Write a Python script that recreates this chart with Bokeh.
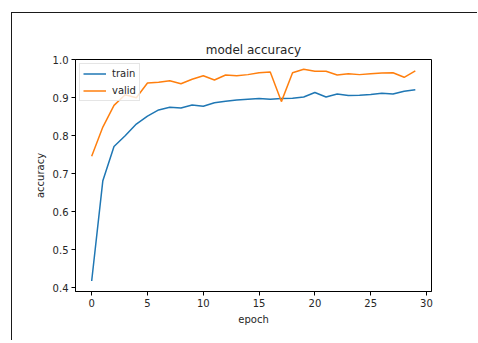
from bokeh.plotting import figure
from bokeh.models import Range1d, FixedTicker
from bokeh.embed import file_html
from bokeh.resources import INLINE

epochs = list(range(30))
train = [0.418, 0.682, 0.772, 0.800, 0.831, 0.852, 0.868, 0.875, 0.873, 0.881,
         0.878, 0.887, 0.891, 0.894, 0.896, 0.898, 0.896, 0.898, 0.899, 0.902,
         0.914, 0.902, 0.910, 0.906, 0.907, 0.909, 0.912, 0.910, 0.917, 0.921]
valid = [0.746, 0.823, 0.880, 0.908, 0.900, 0.939, 0.941, 0.945, 0.937, 0.949,
         0.958, 0.947, 0.960, 0.958, 0.961, 0.966, 0.968, 0.890, 0.966, 0.975,
         0.970, 0.970, 0.960, 0.963, 0.961, 0.963, 0.965, 0.966, 0.954, 0.971]
x_ticks = [0, 5, 10, 15, 20, 25, 30]
y_ticks = [0.4, 0.5, 0.6, 0.7, 0.8, 0.9, 1.0]

FONT = "DejaVu Sans"

p = figure(width=466, height=328, output_backend="svg", toolbar_location=None,
           x_range=Range1d(-1.45, 30.45), y_range=Range1d(0.3903, 1.0008),
           min_border_left=63, min_border_right=47, min_border_top=46,
           min_border_bottom=50, title="model accuracy")
p.styles = {"margin-left": "11px", "margin-top": "12px",
            "border-left": "1px solid #1a1a1a", "border-top": "1px solid #1a1a1a"}

p.line(epochs, train, line_color="#1f77b4", line_width=1.5, legend_label="train")
p.line(epochs, valid, line_color="#ff7f0e", line_width=1.5, legend_label="valid")

p.title.text_font = FONT
p.title.text_font_size = "12px"
p.title.text_font_style = "normal"
p.title.text_color = "#262626"
p.title.align = "center"
p.title.standoff = 5

p.xgrid.visible = False
p.ygrid.visible = False
p.outline_line_color = "black"
p.outline_line_width = 1
p.outline_line_alpha = 1

p.xaxis.ticker = FixedTicker(ticks=x_ticks)
p.yaxis.ticker = FixedTicker(ticks=y_ticks)
p.yaxis.major_label_overrides = {t: f"{t:.1f}" for t in y_ticks}
p.xaxis.axis_label = "epoch"
p.yaxis.axis_label = "accuracy"
for ax in (p.xaxis, p.yaxis):
    ax.major_tick_out = 4
    ax.major_tick_in = 0
    ax.minor_tick_out = 0
    ax.minor_tick_in = 0
    ax.axis_line_color = "black"
    ax.major_tick_line_color = "black"
    ax.major_label_text_font = FONT
    ax.major_label_text_font_size = "10px"
    ax.major_label_text_color = "#262626"
    ax.major_label_standoff = 3
    ax.axis_label_text_font = FONT
    ax.axis_label_text_font_size = "10px"
    ax.axis_label_text_font_style = "normal"
    ax.axis_label_text_color = "#262626"
    ax.axis_label_standoff = 4

lg = p.legend[0]
lg.location = "top_left"
lg.margin = 4
lg.padding = 3
lg.spacing = 4
lg.glyph_width = 23
lg.glyph_height = 13
lg.label_height = 13
lg.label_standoff = 6
lg.label_text_font = FONT
lg.label_text_font_size = "10px"
lg.label_text_color = "#262626"
lg.border_line_color = "#cccccc"
lg.background_fill_alpha = 0.8

open("out.html", "w").write(file_html(p, INLINE))
